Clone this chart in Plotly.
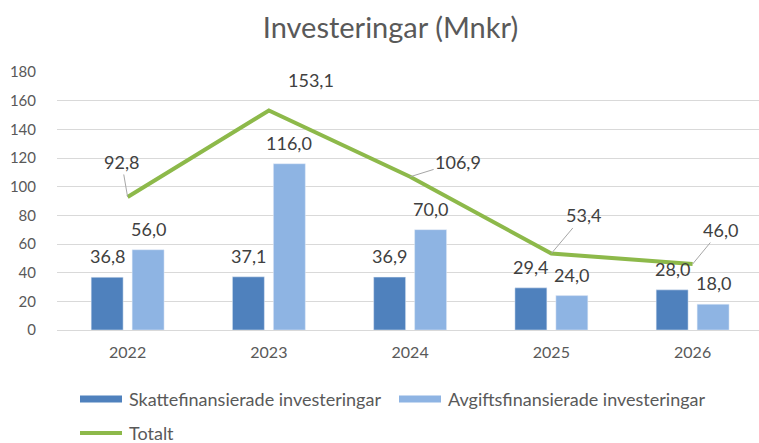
import plotly.graph_objects as go

years = ["2022", "2023", "2024", "2025", "2026"]
skatt = [36.8, 37.1, 36.9, 29.4, 28.0]
avgift = [56.0, 116.0, 70.0, 24.0, 18.0]
totalt = [92.8, 153.1, 106.9, 53.4, 46.0]
series_names = ["Skattefinansierade investeringar", "Avgiftsfinansierade investeringar", "Totalt"]

FONT = "Lato"
TXT = "#404040"
AX = "#595959"
C1, C2, C3 = "#4F81BD", "#8EB4E3", "#8DB94A"

W, H = 759, 443
ML, MR, MT, MB = 57, 0, 72, 113
PW, PH = W - ML - MR, H - MT - MB

def px(x):
    return (x - ML) / PW

def py(y):
    return (H - MB - y) / PH

def fmt(v):
    return f"{v:.1f}".replace(".", ",")

fig = go.Figure()
fig.add_trace(go.Bar(x=years, y=skatt, name=series_names[0], marker_color=C1))
fig.add_trace(go.Bar(x=years, y=avgift, name=series_names[1], marker_color=C2))
fig.add_trace(go.Scatter(x=years, y=totalt, name=series_names[2], mode="lines",
                         line=dict(color=C3, width=4)))

# bar value labels
for i, (a, b) in enumerate(zip(skatt, avgift)):
    for v, xs in ((a, -20.5), (b, 20.5)):
        fig.add_annotation(x=i, y=v, xref="x", yref="y", text=fmt(v), showarrow=False,
                           xshift=xs, yshift=21, yanchor="middle",
                           font=dict(size=18, color=TXT, family=FONT))

# line value labels with leader lines
offsets = [(-6, -35, True), (42, -31, False), (48, -15, True), (32, -38, True), (28, -34, True)]
for i, (v, (ax, ay, arrow)) in enumerate(zip(totalt, offsets)):
    fig.add_annotation(x=i, y=v, xref="x", yref="y", text=fmt(v), showarrow=True,
                       ax=ax, ay=ay, arrowhead=0, arrowwidth=1, standoff=0,
                       arrowcolor="#A6A6A6" if arrow else "rgba(0,0,0,0)",
                       font=dict(size=18, color=TXT, family=FONT))

# custom legend (wide rectangle keys as in the reference)
legend_items = [
    (series_names[0], C1, 80, 399, "rect"),
    (series_names[1], C2, 399, 399, "rect"),
    (series_names[2], C3, 80, 433, "line"),
]
for name, col, lx, ly, kind in legend_items:
    if kind == "rect":
        fig.add_shape(type="rect", xref="paper", yref="paper",
                      x0=px(lx), x1=px(lx + 42), y0=py(ly - 3.5), y1=py(ly + 3.5),
                      fillcolor=col, line=dict(width=0))
    else:
        fig.add_shape(type="line", xref="paper", yref="paper",
                      x0=px(lx), x1=px(lx + 42), y0=py(ly), y1=py(ly),
                      line=dict(color=col, width=4))
    fig.add_annotation(x=px(lx + 47), y=py(ly), xref="paper", yref="paper",
                       text=name, showarrow=False, xanchor="left", yanchor="middle",
                       font=dict(size=18, color=AX, family=FONT))

fig.update_layout(
    width=W, height=H,
    margin=dict(l=ML, r=MR, t=MT, b=MB),
    paper_bgcolor="white", plot_bgcolor="white",
    separators=", ",
    title=dict(text="Investeringar (Mnkr)", x=0.5145, xref="container", xanchor="center",
               y=0.938, yref="container", yanchor="middle",
               font=dict(size=29, color=AX, family=FONT)),
    barmode="group", bargap=0.42, bargroupgap=0.22,
    font=dict(family=FONT, color=AX),
    showlegend=False,
    xaxis=dict(type="category", range=[-0.5, 4.47], showgrid=False, showline=True,
               linecolor="#D9D9D9", ticks="outside", ticklen=8, tickcolor="rgba(0,0,0,0)",
               automargin=False, tickfont=dict(size=16, color=AX, family=FONT)),
    yaxis=dict(range=[0, 180], dtick=20, showgrid=True, gridcolor="#D9D9D9", gridwidth=1,
               zeroline=False, ticks="outside", ticklen=17, tickcolor="rgba(0,0,0,0)",
               automargin=False, tickfont=dict(size=15, color=AX, family=FONT)),
)

fig.write_html("out.html", config={"displayModeBar": False},
               post_script="document.body.style.margin='0';")
